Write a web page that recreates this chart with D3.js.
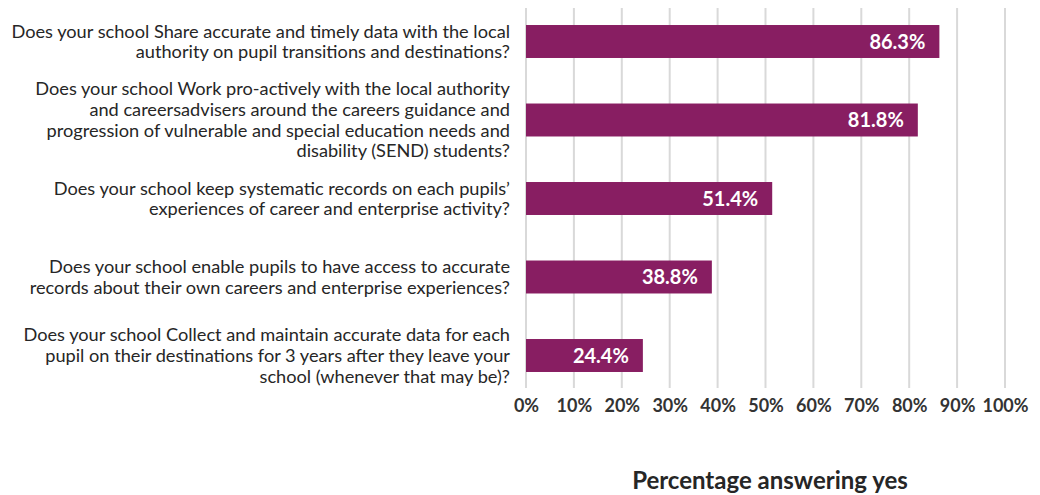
<!DOCTYPE html>
<html><head><meta charset="utf-8">
<script src="https://cdn.jsdelivr.net/npm/d3@7"></script>
<style>
html,body{margin:0;padding:0;background:#fff;}
svg{display:block;font-family:Lato,"Open Sans",sans-serif;}
</style></head>
<body><svg id="chart" width="1040" height="495"></svg>
<script>
const categories = [
  ["Does your school Share accurate and timely data with the local", "authority on pupil transitions and destinations?"],
  ["Does your school Work pro-actively with the local authority", "and careersadvisers around the careers guidance and", "progression of vulnerable and special education needs and", "disability (SEND) students?"],
  ["Does your school keep systematic records on each pupils\u2019", "experiences of career and enterprise activity?"],
  ["Does your school enable pupils to have access to accurate", "records about their own careers and enterprise experiences?"],
  ["Does your school Collect and maintain accurate data for each", "pupil on their destinations for 3 years after they leave your", "school (whenever that may be)?"]
];
const values = [86.3, 81.8, 51.4, 38.8, 24.4];
const tickValues = [0,10,20,30,40,50,60,70,80,90,100];
const axisTitle = "Percentage answering yes";

const svg = d3.select("#chart");
const x = d3.scaleLinear().domain([0,100]).range([526, 1005]);
const y = d3.scaleBand().domain(d3.range(values.length)).range([2.25, 394.75]).paddingInner(0.58).paddingOuter(0.29);

// gridlines
svg.append("g").selectAll("line").data(tickValues).join("line")
  .attr("x1", d=>x(d)).attr("x2", d=>x(d)).attr("y1", 8).attr("y2", 388)
  .attr("stroke", "#d9d9d9").attr("stroke-width", 2);

// axis
const axis = svg.append("g").attr("transform","translate(0,388)")
  .call(d3.axisBottom(x).tickValues(tickValues).tickFormat(d=>d+"%").tickSize(0).tickPadding(11));
axis.select(".domain").remove();
axis.selectAll("text").attr("font-family","Lato, sans-serif").attr("font-size",18).attr("font-weight","bold").attr("fill","#333");

// bars
svg.append("g").selectAll("rect").data(values).join("rect")
  .attr("x", x(0)).attr("y", (d,i)=>y(i)).attr("width", d=>x(d)-x(0)).attr("height", y.bandwidth())
  .attr("fill", "#881E62");

// value labels
svg.append("g").selectAll("text").data(values).join("text")
  .attr("x", d=>x(d)-14).attr("y", (d,i)=>y(i)+y.bandwidth()/2).attr("dy","0.36em")
  .attr("text-anchor","end").attr("font-size",20).attr("font-weight","bold").attr("fill","#fff")
  .text(d=>d.toFixed(1)+"%");

// category labels
const lh = 20.7;
const lg = svg.append("g");
categories.forEach((lines,i)=>{
  const cy = y(i)+y.bandwidth()/2;
  const t = lg.append("text").attr("text-anchor","end").attr("font-size",18.2).attr("fill","#262626");
  lines.forEach((ln,j)=>{
    t.append("tspan").attr("x",510).attr("y", cy + (j-(lines.length-1)/2)*lh).attr("dy","0.35em").text(ln);
  });
});

// axis title
svg.append("text").attr("x",770).attr("y",489).attr("text-anchor","middle")
  .attr("font-size",24).attr("font-weight","bold").attr("fill","#262626").text(axisTitle);
</script></body></html>
